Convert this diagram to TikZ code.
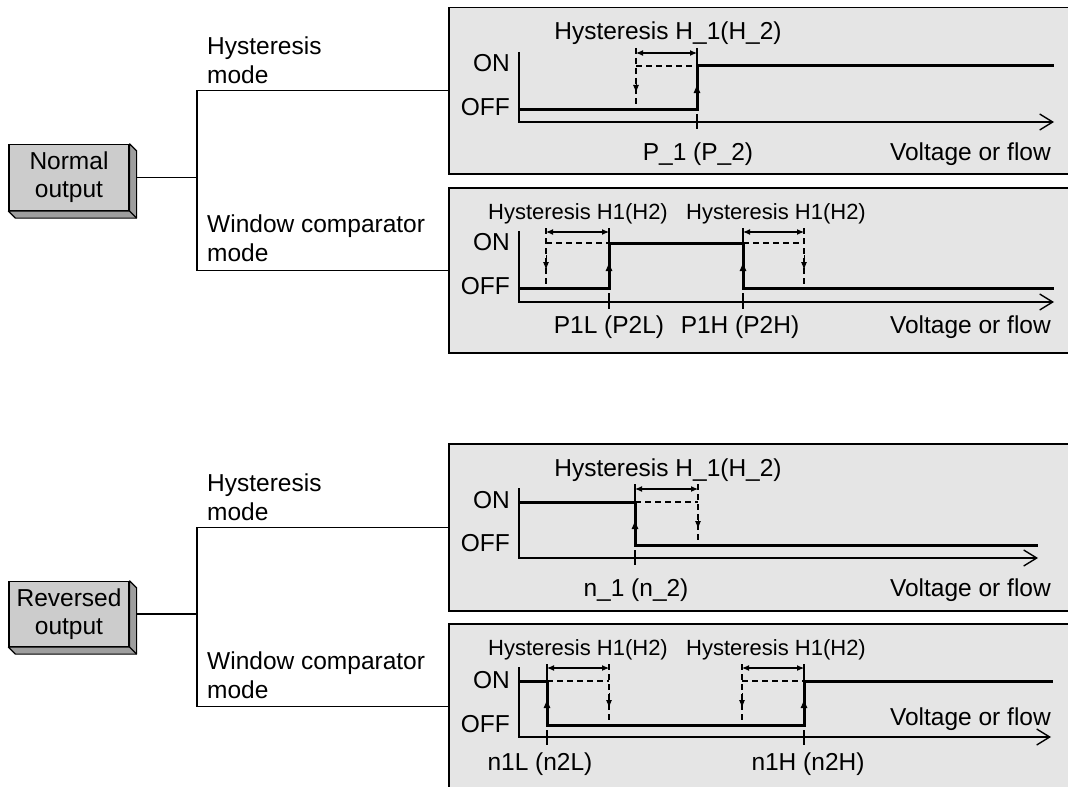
\documentclass[tikz,border=0pt]{standalone}
\usepackage{fontspec}
\setmainfont{Liberation Sans}
\usetikzlibrary{arrows.meta}
\definecolor{panelgray}{gray}{0.9}
\definecolor{boxgray}{gray}{0.8}
\definecolor{sidegray}{gray}{0.62}
\begin{document}
\begin{tikzpicture}[x=1bp,y=-1bp,
  txt/.style={font=\fontsize{24.5bp}{29bp}\selectfont, inner sep=0pt},
  stxt/.style={font=\fontsize{22bp}{26bp}\selectfont, inner sep=0pt},
  panel/.style={draw=black, line width=1.5bp, fill=panelgray, inner sep=0pt, anchor=north west},
  boxst/.style={draw=black, line width=1.2bp, fill=boxgray, inner sep=0pt, minimum width=120bp, align=center, font=\fontsize{24.5bp}{28bp}\selectfont},
  sidest/.style={draw=black, line width=1.2bp, fill=sidegray, line join=round},
  ln/.style={line width=1.3bp},
  sig/.style={line width=3bp, line join=miter},
  dsh/.style={line width=1.3bp, dash pattern=on 6bp off 4bp},
  axisline/.style={line width=1.4bp, -{Straight Barb[length=13bp,width=16bp,line width=1.4bp]}},
  dimarr/.style={line width=1.1bp, {Latex[length=7bp,width=6bp]}-{Latex[length=7bp,width=6bp]}},
  midarr/.style={line width=1bp, -{Latex[length=9bp,width=7bp]}},
  midarrs/.style={line width=1bp, -{Latex[length=8bp,width=6bp]}},
]
\useasboundingbox (0,0) rectangle (1068,787);
\clip (0,0) rectangle (1068,787);

% ---------- panels ----------
\node[panel, minimum width=640bp, minimum height=166bp] (P1) at (448,7) {};
\node[panel, minimum width=640bp, minimum height=165bp] (P2) at (448,187) {};
\node[panel, minimum width=640bp, minimum height=167bp] (P3) at (448,443) {};
\node[panel, minimum width=640bp, minimum height=166bp] (P4) at (448,623) {};

% ---------- left boxes ----------
\node[boxst, minimum height=66bp] (normal) at (69,177.5) {Normal\\output};
\draw[sidest] (normal.north east) -- ++(7,7) -- ([shift={(7,7)}]normal.south east) -- ([shift={(7,7)}]normal.south west) -- (normal.south west) -- (normal.south east) -- cycle;
\draw[ln] (normal.south east) -- ++(7,7);

\node[boxst, minimum height=65bp] (reversed) at (69,614) {Reversed\\output};
\draw[sidest] (reversed.north east) -- ++(7,7) -- ([shift={(7,7)}]reversed.south east) -- ([shift={(7,7)}]reversed.south west) -- (reversed.south west) -- (reversed.south east) -- cycle;
\draw[ln] (reversed.south east) -- ++(7,7);

% ---------- branches ----------
\coordinate (bra) at (197,178);
\coordinate (brb) at (197,614);
\draw[ln] ([xshift=7bp]normal.east) -- (normal.east -| bra);
\draw[ln] (P1.west) -- (P1.west -| bra) -- (P2.west -| bra) -- (P2.west);
\draw[ln] ([xshift=7bp]reversed.east) -- (reversed.east -| brb);
\draw[ln] (P3.west) -- (P3.west -| brb) -- (P4.west -| brb) -- (P4.west);

\node[txt, align=left, anchor=south west] (m1) at (207,84) {Hysteresis\\mode};
\node[txt, align=left, anchor=south west] (m2) at (207,262) {Window comparator\\mode};
\node[txt, align=left, anchor=south west] (m3) at (207,521) {Hysteresis\\mode};
\node[txt, align=left, anchor=south west] (m4) at (207,699) {Window comparator\\mode};

% ---------- panel 1 : normal, hysteresis ----------
\draw[dsh] (636,48) -- (636,109);
\draw[dsh] (636,66) -- (697,66);
\draw[ln] (697,48) -- (697,66);
\draw[sig] (519,109) -- (697,109) -- (697,66) -- (1054,66);
\draw[axisline] (519,52) -- (519,122) -- (1054,122);
\draw[ln] (697,114) -- (697,129);
\draw[dimarr] (636,53) -- (697,53);
\draw[midarr] (697,100) -- (697,84);
\draw[midarrs] (636,78) -- (636,93);
\node[txt, anchor=base] (h1) at (668,40) {Hysteresis H\_1(H\_2)};
\node[txt, anchor=base east] (on1) at (510,72) {ON};
\node[txt, anchor=base east] (off1) at (510,115) {OFF};
\node[txt, anchor=base] (p1) at (698,160) {P\_1 (P\_2)};
\node[txt, anchor=base east] (v1) at (1051,160) {Voltage or flow};

% ---------- panel 2 : normal, window ----------
\draw[dsh] (546,228) -- (546,288);
\draw[dsh] (546,243) -- (609,243);
\draw[dsh] (743,243) -- (804,243);
\draw[dsh] (804,228) -- (804,288);
\draw[ln] (609,228) -- (609,243);
\draw[ln] (743,228) -- (743,243);
\draw[sig] (519,288) -- (609,288) -- (609,243) -- (743,243) -- (743,288) -- (1054,288);
\draw[axisline] (519,231) -- (519,302) -- (1054,302);
\draw[ln] (609,293) -- (609,309);
\draw[ln] (743,293) -- (743,309);
\draw[dimarr] (546,232) -- (609,232);
\draw[dimarr] (743,232) -- (804,232);
\draw[midarr] (609,279) -- (609,262);
\draw[midarr] (743,279) -- (743,262);
\draw[midarrs] (546,255) -- (546,270);
\draw[midarrs] (804,255) -- (804,270);
\node[stxt, anchor=base] (h2a) at (578,219) {Hysteresis H1(H2)};
\node[stxt, anchor=base] (h2b) at (776,219) {Hysteresis H1(H2)};
\node[txt, anchor=base east] (on2) at (510,250) {ON};
\node[txt, anchor=base east] (off2) at (510,294) {OFF};
\node[txt, anchor=base] (p2a) at (609,333) {P1L (P2L)};
\node[txt, anchor=base] (p2b) at (740,333) {P1H (P2H)};
\node[txt, anchor=base east] (v2) at (1051,333) {Voltage or flow};

% ---------- panel 3 : reversed, hysteresis ----------
\draw[dsh] (698,484) -- (698,545);
\draw[dsh] (635,502) -- (698,502);
\draw[ln] (635,484) -- (635,502);
\draw[sig] (519,502) -- (635,502) -- (635,545) -- (1038,545);
\draw[axisline] (519,488) -- (519,558) -- (1038,558);
\draw[ln] (635,550) -- (635,565);
\draw[dimarr] (635,489) -- (698,489);
\draw[midarr] (635,536) -- (635,520);
\draw[midarrs] (698,514) -- (698,529);
\node[txt, anchor=base] (h3) at (668,476) {Hysteresis H\_1(H\_2)};
\node[txt, anchor=base east] (on3) at (510,508) {ON};
\node[txt, anchor=base east] (off3) at (510,551) {OFF};
\node[txt, anchor=base] (n3) at (636,596) {n\_1 (n\_2)};
\node[txt, anchor=base east] (v3) at (1051,596) {Voltage or flow};

% ---------- panel 4 : reversed, window ----------
\draw[dsh] (609,664) -- (609,725);
\draw[dsh] (547,681) -- (609,681);
\draw[dsh] (742,664) -- (742,725);
\draw[dsh] (742,681) -- (804,681);
\draw[ln] (547,664) -- (547,681);
\draw[ln] (804,664) -- (804,681);
\draw[sig] (519,681) -- (547,681) -- (547,725) -- (804,725) -- (804,681) -- (1053,681);
\draw[axisline] (519,667) -- (519,737) -- (1051,737);
\draw[ln] (547,730) -- (547,745);
\draw[ln] (804,730) -- (804,745);
\draw[dimarr] (547,668) -- (609,668);
\draw[dimarr] (742,668) -- (804,668);
\draw[midarr] (547,716) -- (547,699);
\draw[midarr] (804,716) -- (804,699);
\draw[midarrs] (609,693) -- (609,708);
\draw[midarrs] (742,693) -- (742,708);
\node[stxt, anchor=base] (h4a) at (578,655) {Hysteresis H1(H2)};
\node[stxt, anchor=base] (h4b) at (776,655) {Hysteresis H1(H2)};
\node[txt, anchor=base east] (on4) at (510,688) {ON};
\node[txt, anchor=base east] (off4) at (510,732) {OFF};
\node[txt, anchor=base east] (v4) at (1051,725) {Voltage or flow};
\node[txt, anchor=base] (n4a) at (540,770) {n1L (n2L)};
\node[txt, anchor=base] (n4b) at (808,770) {n1H (n2H)};
\end{tikzpicture}
\end{document}
